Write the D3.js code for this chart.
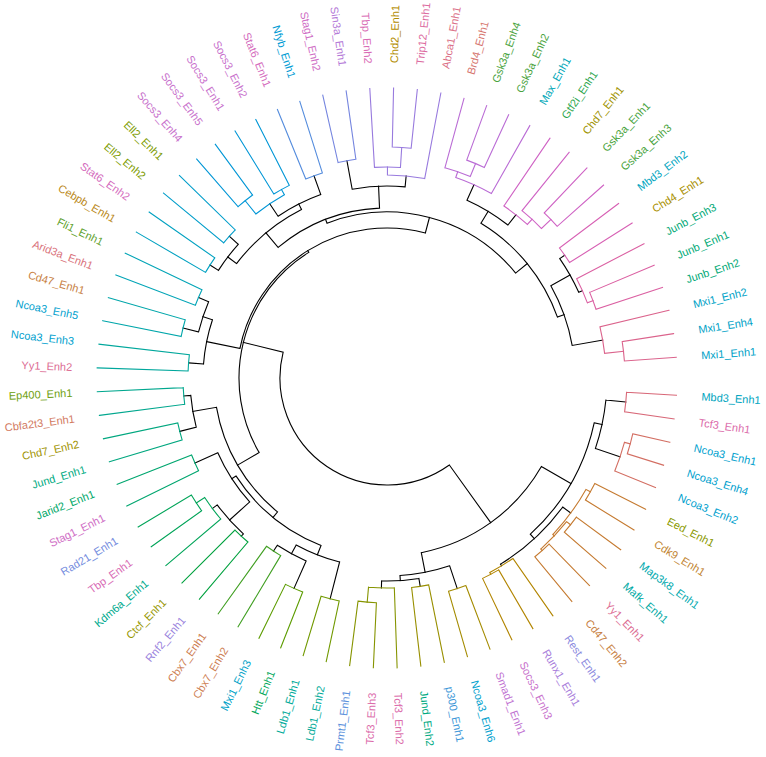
<!DOCTYPE html>
<html>
<head>
<meta charset="utf-8">
<script src="https://cdnjs.cloudflare.com/ajax/libs/d3/7.8.5/d3.min.js"></script>
<style>
  body { margin: 0; background: #fff; }
  text { font-family: "Liberation Sans", Arial, sans-serif; }
</style>
</head>
<body>
<svg id="chart"></svg>
<script>
// arbol: [altura, hijoA, hijoB], las hojas son el nombre
var rightBranch = [1.12,
  [0.78,
    [0.70, [0.50, "Mbd3_Enh1", "Tcf3_Enh1"], [0.44, [0.38, "Ncoa3_Enh1", "Ncoa3_Enh4"], "Ncoa3_Enh2"]],
    [0.72,
      [0.62, [0.57, "Eed_Enh1", "Cdk9_Enh1"], [0.60, [0.55, "Map3k8_Enh1", "Mafk_Enh1"], [0.58, "Yy1_Enh1", "Cd47_Enh2"]]],
      [0.70, "Rest_Enh1", [0.68, "Runx1_Enh1", "Socs3_Enh3"]]]],
  [0.92, [0.68, "Smad1_Enh1", "Ncoa3_Enh6"],
    [0.87, [0.79, "p300_Enh1", "Jund_Enh2"], [0.80, "Tcf3_Enh2", [0.65, "Tcf3_Enh3", "Prmt1_Enh1"]]]]];

var lowerLeft = [1.17,
  [1.10,
    [1.00, [0.62, "Ldb1_Enh2", "Ldb1_Enh1"], [0.90, [0.60, "Htt_Enh1", "Mxi1_Enh3"], [0.83, "Cbx7_Enh2", "Cbx7_Enh1"]]],
    [1.05, [0.78, [0.75, "Rnf2_Enh1", "Ctcf_Enh1"], [0.72, "Kdm6a_Enh1", [0.62, "Tbp_Enh1", "Rad21_Enh1"]]],
      [0.80, "Stag1_Enh1", "Jarid2_Enh1"]]],
  [0.93, [0.76, "Jund_Enh1", "Chd7_Enh2"], [0.86, "Cbfa2t3_Enh1", "Ep400_Enh1"]]];

var leftBranch = [1.06, [0.91, "Yy1_Enh2", "Ncoa3_Enh3"],
  [0.96, [0.80, "Ncoa3_Enh5", "Cd47_Enh1"], [0.85, "Arid3a_Enh1", "Fli1_Enh1"]]];

var topLeft = [1.20,
  [1.01,
    [0.90, [0.80, "Cebpb_Enh1", "Stat6_Enh2"], [0.78, "Ell2_Enh2", "Ell2_Enh1"]],
    [0.95, [0.80, [0.63, "Socs3_Enh4", "Socs3_Enh5"], [0.74, "Socs3_Enh1", "Socs3_Enh2"]], [0.75, "Stat6_Enh1", "Nfyb_Enh1"]]],
  [0.98, [0.69, "Stag1_Enh2", "Sin3a_Enh1"],
    [0.87, [0.79, "Tbp_Enh2", [0.59, "Chd2_Enh1", "Trip12_Enh1"]], "Abca1_Enh1"]]];

var topRight = [1.09,
  [0.95,
    [0.78, [0.72, "Brd4_Enh1", [0.58, "Gsk3a_Enh4", "Gsk3a_Enh2"]], "Max_Enh1"],
    [0.82, "Gtf2i_Enh1", [0.75, "Chd7_Enh1", [0.62, "Gsk3a_Enh1", "Gsk3a_Enh3"]]]],
  [1.02,
    [0.80, [0.74, "Mbd3_Enh2", "Chd4_Enh1"], [0.76, "Junb_Enh3", [0.70, "Junb_Enh1", "Junb_Enh2"]]],
    [0.71, "Mxi1_Enh2", [0.52, "Mxi1_Enh4", "Mxi1_Enh1"]]]];

var tree = [1.83, rightBranch,
  [1.42, lowerLeft, [1.40, leftBranch, [1.24, topLeft, topRight]]]];

// tamaño de cada grupo (k grupos) en el orden de las hojas
var clusterSizes = [2, 3, 6, 3, 2, 2, 3, 2, 2, 2, 2, 3, 2, 2, 2, 2, 2, 2, 2, 2, 4, 2, 2, 4, 4, 4, 2, 3, 3];

// factores (orden alfabetico) para el color de las etiquetas
var factors = ["Abca1", "Arid3a", "Brd4", "Cbfa2t3", "Cbx7", "Cd47", "Cdk9", "Cebpb", "Chd2", "Chd4",
  "Chd7", "Ctcf", "Eed", "Ell2", "Ep400", "Fli1", "Gsk3a", "Gtf2i", "Htt", "Jarid2", "Junb", "Jund",
  "Kdm6a", "Ldb1", "Mafk", "Map3k8", "Max", "Mbd3", "Mxi1", "Ncoa3", "Nfyb", "p300", "Prmt1", "Rad21",
  "Rest", "Rnf2", "Runx1", "Sin3a", "Smad1", "Socs3", "Stag1", "Stat6", "Tbp", "Tcf3", "Trip12", "Yy1"];

var width = 766, height = 757;
var cx = 387, cy = 378;

var svg = d3.select("#chart")
  .attr("width", width)
  .attr("height", height);

// colores tipo hcl (polarLUV) como ggplot
function hclLuv(h, c, l) {
  var hr = h * Math.PI / 180;
  var u = c * Math.cos(hr), v = c * Math.sin(hr);
  var Y = l > 8 ? Math.pow((l + 16) / 116, 3) : l / 903.3;
  var up = u / (13 * l) + 0.1978398, vp = v / (13 * l) + 0.4683363;
  var X = Y * 9 * up / (4 * vp);
  var Z = Y * (12 - 3 * up - 20 * vp) / (4 * vp);
  var rl = 3.2404542 * X - 1.5371385 * Y - 0.4985314 * Z;
  var gl = -0.9692660 * X + 1.8760108 * Y + 0.0415560 * Z;
  var bl = 0.0556434 * X - 0.2040259 * Y + 1.0572252 * Z;
  function g(t) {
    t = t <= 0.0031308 ? 12.92 * t : 1.055 * Math.pow(Math.max(t, 0), 1 / 2.4) - 0.055;
    return Math.max(0, Math.min(255, Math.round(t * 255)));
  }
  return d3.rgb(g(rl), g(gl), g(bl)).formatHex();
}

var root = d3.hierarchy(tree, function (d) { return Array.isArray(d) ? d.slice(1) : null; });
var leaves = root.leaves();
var n = leaves.length;

// grupo de cada hoja
var leafCluster = [];
clusterSizes.forEach(function (s, k) {
  for (var i = 0; i < s; i++) leafCluster.push(k);
});

leaves.forEach(function (d, i) {
  d.idx = i;
  d.name = d.data;
  d.h = 0;
  d.cl = leafCluster[i];
});
root.eachAfter(function (d) {
  if (d.children) {
    d.h = d.data[0];
    d.idx = d3.mean(d.children, function (c) { return c.idx; });
    var c0 = d.children[0].cl, c1 = d.children[1].cl;
    d.cl = (c0 === c1) ? c0 : -1;
  }
});

var rScale = d3.scaleLinear().domain([0, 2.9]).range([290, 0]);
var aScale = d3.scaleLinear().domain([0, n - 1]).range([3.4, 355.9]);
var hueScale = d3.scaleLinear().domain([0, n]).range([3, 363]);
var factorHue = d3.scaleLinear().domain([0, factors.length]).range([0, 360]);

// color de cada grupo segun su posicion
var clusterColor = [];
var start = 0;
clusterSizes.forEach(function (s) {
  var mid = start + (s - 1) / 2;
  clusterColor.push(hclLuv(hueScale(mid) % 360, 78, 58));
  start += s;
});

function rad(deg) { return deg * Math.PI / 180; }
function pt(r, deg) {
  return [cx + r * Math.cos(rad(deg)), cy + r * Math.sin(rad(deg))];
}

var gTree = svg.append("g").attr("fill", "none").attr("stroke-width", 1.1);

root.descendants().forEach(function (d) {
  if (!d.children) return;
  var col = d.cl >= 0 ? clusterColor[d.cl] : "#000";
  var r = rScale(d.h);
  var a0 = aScale(d.children[0].idx), a1 = aScale(d.children[1].idx);
  var p = d3.path();
  var s = pt(r, a0);
  p.moveTo(s[0], s[1]);
  p.arc(cx, cy, r, rad(a0), rad(a1), false);
  d.children.forEach(function (c) {
    var ang = aScale(c.idx);
    var p1 = pt(r, ang), p2 = pt(rScale(c.h), ang);
    p.moveTo(p1[0], p1[1]);
    p.lineTo(p2[0], p2[1]);
  });
  gTree.append("path")
    .attr("d", p.toString())
    .attr("stroke", col)
    .attr("stroke-linecap", "square");
});

// etiquetas
svg.append("g")
  .selectAll("text")
  .data(leaves)
  .enter()
  .append("text")
  .attr("transform", function (d) {
    var ang = aScale(d.idx);
    var flip = ang > 90 && ang < 270;
    return "translate(" + cx + "," + cy + ") rotate(" + ang + ") translate(315,0)" + (flip ? " rotate(180)" : "");
  })
  .attr("text-anchor", function (d) {
    var ang = aScale(d.idx);
    return (ang > 90 && ang < 270) ? "end" : "start";
  })
  .attr("dy", "0.35em")
  .attr("font-size", "11px")
  .attr("fill", function (d) {
    var f = factors.indexOf(d.name.split("_")[0]);
    return hclLuv(factorHue(f), 72, 60);
  })
  .text(function (d) { return d.name; });
</script>
</body>
</html>
